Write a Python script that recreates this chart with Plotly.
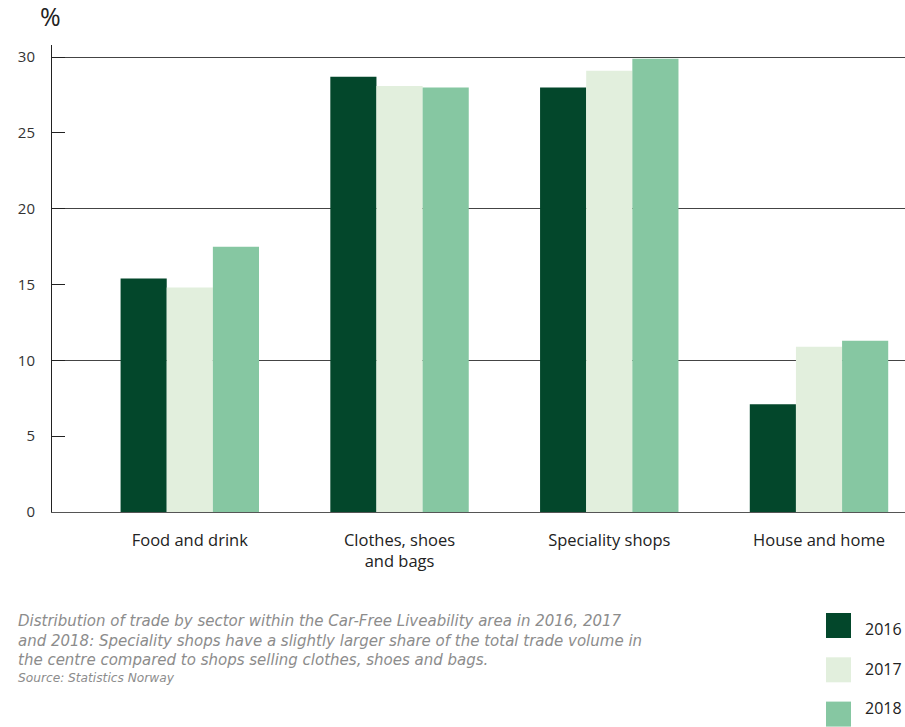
import plotly.graph_objects as go

categories = ["Food and drink", "Clothes, shoes<br>and bags", "Speciality shops", "House and home"]
years = ["2016", "2017", "2018"]
values_2016 = [15.4, 28.7, 28.0, 7.1]
values_2017 = [14.8, 28.1, 29.1, 10.9]
values_2018 = [17.5, 28.0, 29.9, 11.3]
series = [values_2016, values_2017, values_2018]
colors = ["#03472b", "#e2efdd", "#86c7a2"]
y_ticks = [0, 5, 10, 15, 20, 25, 30]
grid_values = [10, 20, 30]

caption_lines = [
    "Distribution of trade by sector within the Car-Free Liveability area in 2016, 2017",
    "and 2018: Speciality shops have a slightly larger share of the total trade volume in",
    "the centre compared to shops selling clothes, shoes and bags.",
]
source = "Source: Statistics Norway"

fig = go.Figure()
for yr, vals, col in zip(years, series, colors):
    fig.add_trace(go.Bar(x=list(range(len(categories))), y=vals, name=yr,
                         marker=dict(color=col, line=dict(width=0)), showlegend=False))

# invisible trace to drive grid axis
fig.add_trace(go.Scatter(x=[None], y=[None], yaxis="y2", showlegend=False, hoverinfo="skip"))

font_main = "Open Sans, sans-serif"
font_cap = "DejaVu Sans, sans-serif"
fig.update_layout(
    width=905, height=727,
    margin=dict(l=52, r=0, t=45, b=215),
    plot_bgcolor="white", paper_bgcolor="white",
    barmode="group", bargap=0.34, bargroupgap=0,
    font=dict(family=font_main, color="#222", size=15),
    xaxis=dict(range=[-0.657, 3.41], tickmode="array", tickvals=list(range(len(categories))),
               ticktext=categories, showgrid=False, zeroline=False, showline=True,
               linecolor="#555", linewidth=1, ticks="", ticklabelstandoff=13,
               tickfont=dict(size=16.5, color="#222", family=font_main)),
    yaxis=dict(range=[0, 30.8], tickmode="array", tickvals=y_ticks, showgrid=False,
               zeroline=False, showline=True, linecolor="#222", linewidth=1,
               ticks="inside", ticklen=13, tickcolor="#222", tickwidth=1,
               ticklabelstandoff=13,
               tickfont=dict(size=15, color="#333", family=font_main)),
    yaxis2=dict(range=[0, 30.8], overlaying="y", tickmode="array", tickvals=grid_values,
                showgrid=True, gridcolor="#444", gridwidth=1, showticklabels=False,
                zeroline=False, showline=False, ticks=""),
)

fig.add_annotation(text="%", xref="paper", yref="paper", x=-0.016, y=1.0, yshift=10,
                   xanchor="left", yanchor="bottom", showarrow=False,
                   font=dict(size=25, color="#222", family=font_main))

px_to_paper_y = lambda py: (512 - py) / 467
cap_x = (16 - 52) / 853
fig.add_annotation(text="<br>".join(caption_lines), xref="paper", yref="paper", x=cap_x,
                   y=px_to_paper_y(640), xanchor="left", yanchor="middle",
                   align="left", showarrow=False,
                   font=dict(size=15, color="#8c8c8c", family=font_cap, style="italic"))
fig.add_annotation(text=source, xref="paper", yref="paper", x=cap_x, y=px_to_paper_y(678),
                   xanchor="left", yanchor="middle", align="left", showarrow=False,
                   font=dict(size=12.2, color="#8c8c8c", family=font_cap, style="italic"))

# manual legend
sq_x0 = 0.9074
sq_w = 0.0293
sq_h = 25 / 467
for i, (yr, col) in enumerate(zip(years, colors)):
    top = px_to_paper_y(613 + i * 44.3)
    fig.add_shape(type="rect", xref="paper", yref="paper", x0=sq_x0, x1=sq_x0 + sq_w,
                  y0=top - sq_h, y1=top, fillcolor=col, line=dict(width=0))
    fig.add_annotation(text=yr, xref="paper", yref="paper", x=(863 - 52) / 853,
                       y=px_to_paper_y(629 + i * 39.5), xanchor="left", yanchor="middle",
                       showarrow=False, font=dict(size=16, color="#222", family=font_main))

fig.write_html("out.html")
